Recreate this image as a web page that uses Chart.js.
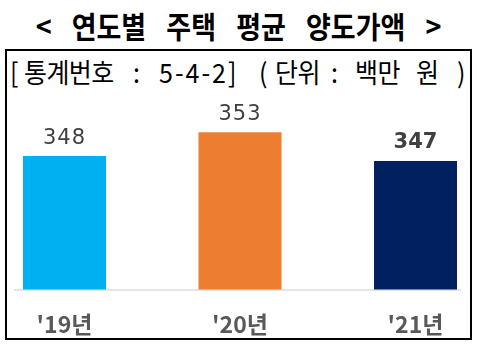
<!DOCTYPE html>
<html><head><meta charset="utf-8">
<script src="https://cdn.jsdelivr.net/npm/chart.js@4"></script>
<style>
html,body{margin:0;padding:0;background:#fff;}
#wrap{position:relative;width:477px;height:351px;overflow:hidden;}
#title{position:absolute;left:0;top:6px;width:477px;text-align:center;font-family:"Noto Sans CJK KR";font-weight:700;font-size:27px;line-height:40px;color:#000;word-spacing:14px;white-space:nowrap;transform:scaleY(1.1);}
#box{position:absolute;left:5px;top:49px;width:463px;height:287px;border:2px solid #000;}
#sub{position:absolute;left:0;top:54px;width:477px;height:34px;font-family:"Noto Sans CJK KR";font-size:25px;line-height:34px;color:#000;white-space:pre;transform:scaleY(1.08);transform-origin:left center;}
#sub span{position:absolute;top:0;}
#sub .h{letter-spacing:-0.6px;}
canvas{position:absolute;left:0;top:0;}
</style></head><body>
<div id="wrap">
<div id="title">&lt; 연도별 주택 평균 양도가액 &gt;</div>
<div id="box"></div>
<div id="sub"><span style="left:10px">[</span><span class="h" style="left:24px">통계번호</span><span style="left:133px">:</span><span style="left:159px;letter-spacing:2px">5-4-2</span><span style="left:228px">]</span><span style="left:259px">(</span><span class="h" style="left:275px">단위</span><span style="left:331px">:</span><span class="h" style="left:355px">백만</span><span style="left:416px">원</span><span style="left:457px">)</span></div>
<canvas id="c" width="477" height="351"></canvas>
</div>
<script>
const categories = ["'19년", "'20년", "'21년"];
const values = [348, 353, 347];
const barColors = ["#00B0F0", "#ED7D31", "#002060"];
const labelBold = [false, false, true];

const baseline = {
  id: 'baseline',
  beforeDatasetsDraw(chart) {
    const ctx = chart.ctx, y = chart.chartArea.bottom + 0.5;
    ctx.save();
    ctx.strokeStyle = '#dcdcdc';
    ctx.lineWidth = 1.5;
    ctx.beginPath(); ctx.moveTo(14, y); ctx.lineTo(461, y); ctx.stroke();
    ctx.restore();
  }
};
const valueLabels = {
  id: 'valueLabels',
  afterDatasetsDraw(chart) {
    const ctx = chart.ctx;
    const meta = chart.getDatasetMeta(0);
    ctx.save();
    ctx.textAlign = 'center';
    ctx.textBaseline = 'alphabetic';
    meta.data.forEach((bar, i) => {
      ctx.font = (labelBold[i] ? 'bold ' : '') + '21px "DejaVu Sans"';
      ctx.letterSpacing = labelBold[i] ? '0px' : '1px';
      ctx.fillStyle = '#404040';
      ctx.fillText(String(values[i]), bar.x, bar.y - 12.5);
    });
    ctx.restore();
  }
};

new Chart(document.getElementById('c'), {
  type: 'bar',
  data: {
    labels: categories,
    datasets: [{
      data: values,
      backgroundColor: barColors,
      borderWidth: 0,
      barPercentage: 0.473,
      categoryPercentage: 1.0,
      clip: { left: false, right: false, top: false, bottom: 0 }
    }]
  },
  options: {
    responsive: false,
    animation: false,
    devicePixelRatio: 1,
    layout: { padding: { left: 64.5, right: 61.5, top: 99, bottom: 0 } },
    plugins: { legend: { display: false }, tooltip: { enabled: false } },
    scales: {
      x: {
        offset: false,
        grid: { display: false },
        border: { display: false },
        ticks: {
          color: '#595959',
          font: { family: '"Noto Sans CJK KR"', size: 23, weight: 'bold' },
          padding: 13,
          maxRotation: 0
        }
      },
      y: {
        display: false,
        min: 320,
        max: 360
      }
    }
  },
  plugins: [baseline, valueLabels]
});
</script>
</body></html>
